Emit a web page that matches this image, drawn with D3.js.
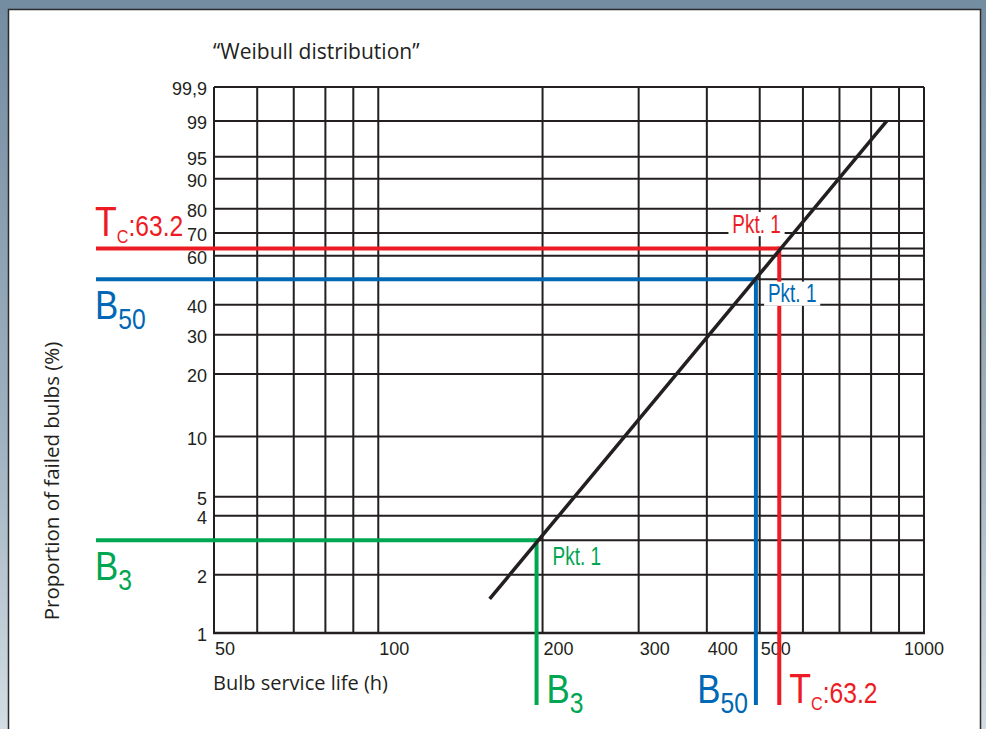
<!DOCTYPE html>
<html>
<head>
<meta charset="utf-8">
<script src="https://cdn.jsdelivr.net/npm/d3@7"></script>
<style>
  body { margin: 0; background: #fff; }
  svg { display: block; }
  .tick { font-family: "Liberation Sans", Arial, sans-serif; font-size: 18px; fill: #231f20; }
  .ttl { font-family: "Open Sans", sans-serif; fill: #231f20; }
  .big { font-family: "Liberation Sans", Arial, sans-serif; }
</style>
</head>
<body>
<svg id="chart" width="986" height="729"></svg>
<script>
// gridlines and labels
const xGrid = [50, 60, 70, 80, 90, 100, 200, 300, 400, 500, 600, 700, 800, 900, 1000];
const xLabels = [50, 100, 200, 300, 400, 500, 1000];
const yGrid = [1, 2, 3, 4, 5, 10, 20, 30, 40, 50, 60, 63.2, 70, 80, 90, 95, 99, 99.9];
const yLabelValues = [1, 2, 4, 5, 10, 20, 30, 40, 60, 70, 80, 90, 95, 99, 99.9];
const yLabelText = ["1", "2", "4", "5", "10", "20", "30", "40", "60", "70", "80", "90", "95", "99", "99,9"];

// weibull line (hours, % failed)
const lineHours = [160, 855];
const linePct = [1.5, 99];

// marked points
const markerNames = ["B3", "B50", "Tc"];
const markerHours = [195, 492, 543];
const markerPct = [3, 50, 63.2];

const colors = {B3: "#00a651", B50: "#0068b4", Tc: "#ed1c24"};

const svg = d3.select("#chart");

// background frame
const defs = svg.append("defs");
const grad = defs.append("linearGradient").attr("id", "bg")
  .attr("x1", 0).attr("y1", 0).attr("x2", 0).attr("y2", 1);
grad.append("stop").attr("offset", "0%").attr("stop-color", "#748ca0");
grad.append("stop").attr("offset", "60%").attr("stop-color", "#9fb2c0");
grad.append("stop").attr("offset", "100%").attr("stop-color", "#d3dde3");
svg.append("rect").attr("width", 986).attr("height", 729).attr("fill", "url(#bg)");
svg.append("rect").attr("x", 8.5).attr("y", 9.5).attr("width", 972).attr("height", 730)
  .attr("fill", "#fff").attr("stroke", "#2b2b2b").attr("stroke-width", 1.5);

// scales
const x = d3.scaleLog().domain([50, 1000]).range([214, 924]);
const wb = p => Math.log(-Math.log(1 - p / 100));
const yLin = d3.scaleLinear().domain([wb(1), wb(99.9)]).range([633, 87]);
const y = p => yLin(wb(p));

const ink = "#231f20";

// grid
const grid = svg.append("g");
grid.selectAll("line.v").data(xGrid).enter().append("line")
  .attr("x1", d => x(d)).attr("x2", d => x(d))
  .attr("y1", y(99.9)).attr("y2", y(1))
  .attr("stroke", ink).attr("stroke-width", 2);
grid.selectAll("line.h").data(yGrid).enter().append("line")
  .attr("x1", x(50)).attr("x2", x(1000))
  .attr("y1", d => y(d)).attr("y2", d => y(d))
  .attr("stroke", ink).attr("stroke-width", 2);
grid.append("line")
  .attr("x1", x(50) - 1).attr("x2", x(1000) + 1)
  .attr("y1", y(1)).attr("y2", y(1))
  .attr("stroke", ink).attr("stroke-width", 2.6);

// tick labels
svg.selectAll("text.ylab").data(yLabelValues).enter().append("text")
  .attr("class", "tick")
  .attr("x", 207).attr("y", d => y(d) + 2)
  .attr("dy", "0.35em").attr("text-anchor", "end")
  .text((d, i) => yLabelText[i]);

svg.selectAll("text.xlab").data(xLabels).enter().append("text")
  .attr("class", "tick")
  .attr("x", d => d === 1000 ? x(d) : x(d) + 1)
  .attr("y", 655)
  .attr("text-anchor", d => d === 1000 ? "middle" : "start")
  .text(d => d);

// titles
svg.append("text").attr("class", "ttl").attr("x", 213).attr("y", 59)
  .attr("font-size", 21).text("\u201cWeibull distribution\u201d");
svg.append("text").attr("class", "ttl").attr("x", 213).attr("y", 690)
  .attr("font-size", 20).text("Bulb service life (h)");
svg.append("text").attr("class", "ttl")
  .attr("transform", "translate(59,481) rotate(-90)")
  .attr("text-anchor", "middle").attr("font-size", 20.5)
  .text("Proportion of failed bulbs (%)");

// marker lines
const markers = markerNames.map((n, i) => ({name: n, h: markerHours[i], p: markerPct[i]}));
const mg = svg.append("g");
markers.forEach(m => {
  mg.append("line").attr("x1", 96).attr("x2", x(m.h))
    .attr("y1", y(m.p)).attr("y2", y(m.p))
    .attr("stroke", colors[m.name]).attr("stroke-width", 4);
  mg.append("line").attr("x1", x(m.h)).attr("x2", x(m.h))
    .attr("y1", y(m.p) - 2).attr("y2", 705)
    .attr("stroke", colors[m.name]).attr("stroke-width", 4);
});

// weibull line
svg.append("line")
  .attr("x1", x(lineHours[0])).attr("y1", y(linePct[0]))
  .attr("x2", x(lineHours[1])).attr("y2", y(linePct[1]))
  .attr("stroke", ink).attr("stroke-width", 3.5);

// "Pkt. 1" labels
const pktOffset = {B3: [16, 25], B50: [12, 23], Tc: [-47, -16]};
markers.forEach(m => {
  const g = svg.append("g")
    .attr("transform", `translate(${x(m.h) + pktOffset[m.name][0]},${y(m.p) + pktOffset[m.name][1]}) scale(0.76,1)`);
  const bg = g.append("rect").attr("fill", "#fff");
  const t = g.append("text").attr("class", "big").attr("font-size", 25)
    .attr("fill", colors[m.name]).text("Pkt. 1");
  const b = t.node().getBBox();
  bg.attr("x", b.x - 5).attr("y", b.y + 2).attr("width", b.width + 10).attr("height", b.height - 4);
});

// big B / Tc labels
function bigLabel(m, px, py, anchor) {
  const t = svg.append("g").attr("transform", `translate(${px},${py}) scale(0.85,1)`)
    .append("text").attr("class", "big").attr("fill", colors[m.name])
    .attr("text-anchor", anchor);
  if (m.name === "Tc") {
    t.append("tspan").attr("font-size", 42).text("T");
    t.append("tspan").attr("font-size", 19).attr("dy", 7).text("C");
    t.append("tspan").attr("font-size", 29).attr("dy", -7).text(":" + m.p);
  } else {
    t.append("tspan").attr("font-size", 41).text("B");
    t.append("tspan").attr("font-size", 29).attr("dy", 10).text(m.name.slice(1));
  }
}
markers.forEach(m => {
  const above = m.name === "Tc";
  bigLabel(m, 95, above ? y(m.p) - 13 : y(m.p) + 40, "start");
  if (m.name === "B50") bigLabel(m, x(m.h) - 8, 703, "end");
  else bigLabel(m, x(m.h) + 10, 703, "start");
});
</script>
</body>
</html>
